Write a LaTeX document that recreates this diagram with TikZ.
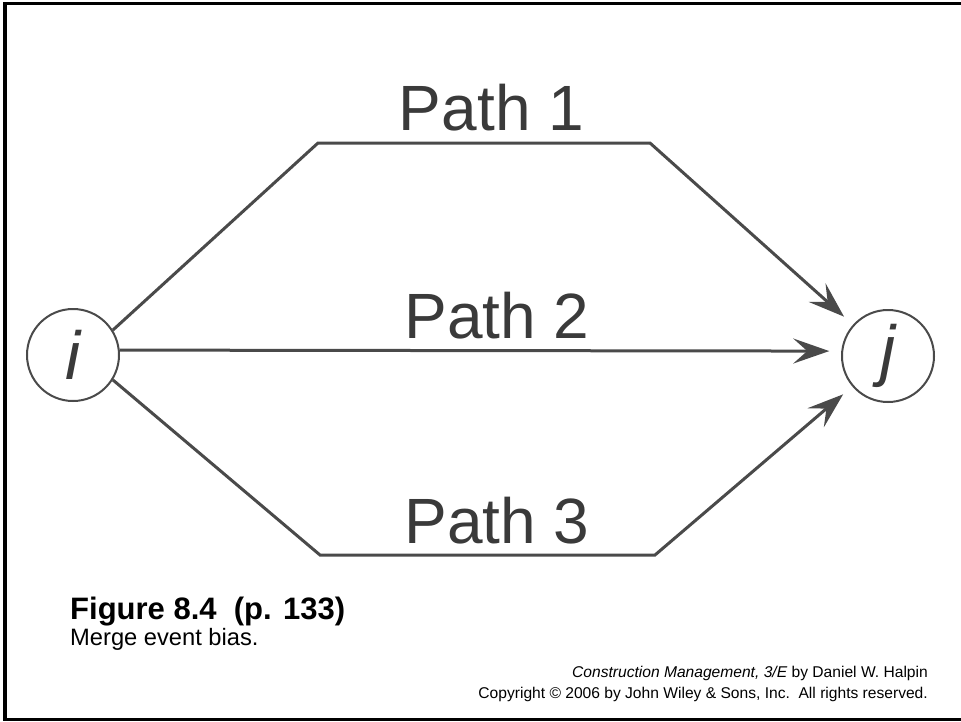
\documentclass[tikz,border=0pt]{standalone}
\usepackage{fontspec}
\setmainfont{Liberation Sans}
\usetikzlibrary{arrows.meta}
\definecolor{linegray}{HTML}{4A4A4A}
\definecolor{textgray}{HTML}{3A3A3A}
\tikzset{
  event/.style={circle, draw=linegray, line width=2pt, minimum size=92pt, inner sep=0pt,
    text=textgray, font=\fontsize{68}{68}\selectfont\itshape},
  pathline/.style={draw=linegray, line width=3pt, line join=miter,
    -{Stealth[length=36pt, width=25pt, inset=14pt]}, shorten >=12pt},
  pathlabel/.style={anchor=base, inner sep=0pt, text=textgray, font=\fontsize{64}{64}\selectfont},
  frame/.style={draw=black, line width=3.3pt}
}
\begin{document}
\begin{tikzpicture}[x=1pt, y=-1pt]
\useasboundingbox (0,0) rectangle (961,721);
\draw[frame] (965,3.3) -- (5,3.3) -- (5,719.5) -- (965,719.5);

\node[event] (i) at (73,355) {i};
\node[event] (j) at (888,356) {j};

\coordinate (b1) at (318,143);
\coordinate (c1) at (650,143);
\coordinate (b3) at (320,555);
\coordinate (c3) at (655,555);

\draw[pathline] (i.32) -- (b1) -- (c1) -- (j);
\draw[pathline] (i.6) -- (j.174);
\draw[pathline] (i.-32) -- (b3) -- (c3) -- (j);

\node[pathlabel] (p1) at (491.5,130) {Path 1};
\node[pathlabel] (p2) at (497,338) {Path 2};
\node[pathlabel] (p3) at (497,543) {Path 3};

\node[anchor=base west, inner sep=0pt, font=\fontsize{31}{31}\selectfont\bfseries] (fig) at (70,619) {Figure 8.4\ \ (p. 133)};
\node[anchor=base west, inner sep=0pt, font=\fontsize{23.7}{24}\selectfont] (cap) at (70,645) {Merge event bias.};
\node[anchor=base east, inner sep=0pt, font=\fontsize{15.6}{16}\selectfont] (c1t) at (928,677) {\textit{Construction Management, 3/E} by Daniel W. Halpin};
\node[anchor=base east, inner sep=0pt, font=\fontsize{15.6}{16}\selectfont] (c2t) at (928,698) {Copyright © 2006 by John Wiley \& Sons, Inc.\ \ All rights reserved.};
\end{tikzpicture}
\end{document}
